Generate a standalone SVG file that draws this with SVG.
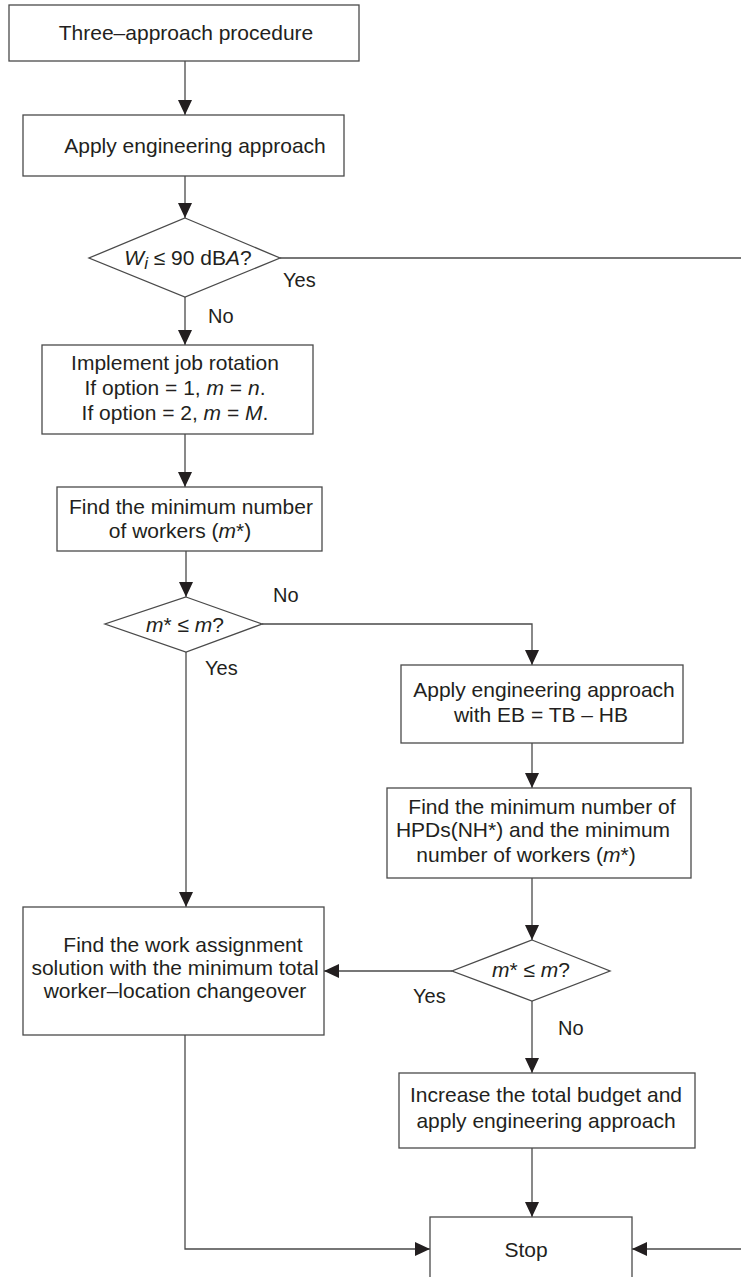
<svg xmlns="http://www.w3.org/2000/svg" width="741" height="1277" viewBox="0 0 741 1277">
<style>
.box{fill:#fff;stroke:#4a4a4a;stroke-width:1.3}
.ln{fill:none;stroke:#4a4a4a;stroke-width:1.3}
text{font-family:"Liberation Sans",Arial,sans-serif;font-size:21px;fill:#231f20;text-anchor:middle}
.lbl{font-size:20px;text-anchor:start}
.i{font-style:italic}
</style>
<defs>
<marker id="ah" viewBox="0 0 15 15" refX="15" refY="7.5" markerWidth="15" markerHeight="15" markerUnits="userSpaceOnUse" orient="auto">
<path d="M0,0.5 L15,7.5 L0,14.5 z" fill="#231f20"/>
</marker>
</defs>
<rect width="741" height="1277" fill="#fff"/>
<g id="connectors">
<path class="ln" d="M185,61 V115" marker-end="url(#ah)"/>
<path class="ln" d="M185,176 V218" marker-end="url(#ah)"/>
<path class="ln" d="M185,297 V345" marker-end="url(#ah)"/>
<path class="ln" d="M185,434 V487" marker-end="url(#ah)"/>
<path class="ln" d="M186,551 V597" marker-end="url(#ah)"/>
<path class="ln" d="M262,624 H532 V665" marker-end="url(#ah)"/>
<path class="ln" d="M532,743 V788" marker-end="url(#ah)"/>
<path class="ln" d="M532,878 V940" marker-end="url(#ah)"/>
<path class="ln" d="M532,1001 V1073" marker-end="url(#ah)"/>
<path class="ln" d="M532,1148 V1217" marker-end="url(#ah)"/>
<path class="ln" d="M452,971 H324" marker-end="url(#ah)"/>
<path class="ln" d="M186,652 V907" marker-end="url(#ah)"/>
<path class="ln" d="M185,1035 V1249 H430" marker-end="url(#ah)"/>
<path class="ln" d="M280,258 H741"/>
<path class="ln" d="M741,1249 H632" marker-end="url(#ah)"/>
<text class="lbl" x="283" y="287">Yes</text>
<text class="lbl" x="208" y="323">No</text>
<text class="lbl" x="273" y="602">No</text>
<text class="lbl" x="205" y="675">Yes</text>
<text class="lbl" x="413" y="1003">Yes</text>
<text class="lbl" x="558" y="1035">No</text>
</g>
<g id="start">
<rect class="box" x="9" y="5" width="350" height="56"/>
<text x="186" y="40">Three–approach procedure</text>
</g>
<g id="apply1">
<rect class="box" x="23" y="115" width="321" height="61"/>
<text x="195" y="153">Apply engineering approach</text>
</g>
<g id="dec1">
<polygon class="box" points="185,218 280,258 185,297 89,258"/>
<text x="188" y="265"><tspan class="i">W</tspan><tspan class="i" font-size="17" dy="4">i</tspan><tspan dy="-4"> ≤ 90 dB</tspan><tspan class="i">A</tspan>?</text>
</g>
<g id="rotation">
<rect class="box" x="42" y="345" width="271" height="89"/>
<text x="175" y="370">Implement job rotation</text>
<text x="175" y="395">If option = 1, <tspan class="i">m</tspan> = <tspan class="i">n</tspan>.</text>
<text x="175" y="420">If option = 2, <tspan class="i">m</tspan> = <tspan class="i">M</tspan>.</text>
</g>
<g id="minworkers">
<rect class="box" x="57" y="487" width="265" height="64"/>
<text x="191" y="514">Find the minimum number</text>
<text x="180" y="538">of workers (<tspan class="i">m</tspan>*)</text>
</g>
<g id="dec2">
<polygon class="box" points="186,597 262,624 186,652 105,624"/>
<text x="185" y="632"><tspan class="i">m</tspan>* ≤ <tspan class="i">m</tspan>?</text>
</g>
<g id="apply2">
<rect class="box" x="401" y="665" width="282" height="78"/>
<text x="544" y="697">Apply engineering approach</text>
<text x="541" y="722">with  EB = TB – HB</text>
</g>
<g id="hpds">
<rect class="box" x="387" y="788" width="304" height="90"/>
<text x="542" y="814">Find the minimum number of</text>
<text x="533" y="837">HPDs(NH*) and the minimum</text>
<text x="526" y="862">number of workers (<tspan class="i">m</tspan>*)</text>
</g>
<g id="dec3">
<polygon class="box" points="532,940 610,971 532,1001 452,971"/>
<text x="531" y="977"><tspan class="i">m</tspan>* ≤ <tspan class="i">m</tspan>?</text>
</g>
<g id="assignment">
<rect class="box" x="23" y="907" width="301" height="128"/>
<text x="183" y="952">Find the work assignment</text>
<text x="175" y="975">solution with the minimum total</text>
<text x="175" y="998">worker–location changeover</text>
</g>
<g id="increase">
<rect class="box" x="399" y="1073" width="296" height="75"/>
<text x="546" y="1102">Increase the total budget and</text>
<text x="546" y="1128">apply engineering approach</text>
</g>
<g id="stop">
<rect class="box" x="430" y="1217" width="202" height="80"/>
<text x="526" y="1257">Stop</text>
</g>
</svg>
